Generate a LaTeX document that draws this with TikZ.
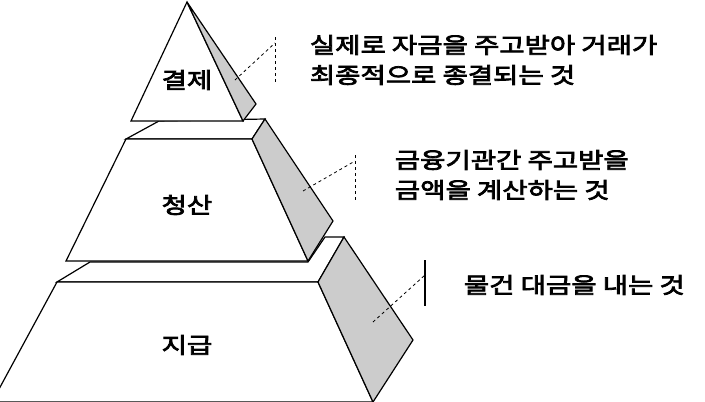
\documentclass[tikz,border=0pt]{standalone}
\usepackage{fontspec}
\newfontfamily\kr{Noto Sans CJK KR}[FakeBold=3.5,FakeStretch=1.25]
\usetikzlibrary{positioning}
\definecolor{sidegray}{RGB}{204,204,204}
\begin{document}
\begin{tikzpicture}[x=1pt,y=-1pt,line join=miter,line width=1.2pt,
    front face/.style={draw,fill=white},
    side face/.style={draw,fill=sidegray},
    leader/.style={dashed,line width=0.8pt},
    tier label/.style={font=\kr\fontsize{22}{26}\selectfont},
    note/.style={font=\kr\fontsize{22}{30}\selectfont,align=left,anchor=west}]
  \useasboundingbox (0,0) rectangle (705,402);
  \begin{scope}
    % bottom tier
    \draw[front face] (57,282) -- (90,262) -- (308,262) -- (325,237) -- (344,237) -- (318,282) -- cycle;
    \draw[front face] (57,282) -- (318,282) -- (373,402) -- (-8,402) -- cycle;
    \draw[side face] (318,282) -- (344,237) -- (413,340) -- (373,402) -- cycle;
    % middle tier
    \draw[front face] (126,139) -- (159,121) -- (265,119) -- (252,139) -- cycle;
    \draw[front face] (126,139) -- (252,139) -- (308,261) -- (66,261) -- cycle;
    \draw[side face] (252,139) -- (265,119) -- (333,221) -- (308,261) -- cycle;
    % top tier
    \draw[front face] (187,2) -- (243,121) -- (131,121) -- cycle;
    \draw[side face] (187,2) -- (256,104) -- (243,121) -- cycle;
  \end{scope}
  \node[tier label] (pay) at (187,80) {결제};
  \node[tier label] (clear) at (187,205) {청산};
  \node[tier label] (give) at (187,345) {지급};
  % leaders
  \coordinate (t1) at (235,80);  \coordinate (t2) at (275,43);
  \coordinate (m1) at (303,191); \coordinate (m2) at (355,161);
  \coordinate (b1) at (373,322); \coordinate (b2) at (425,275);
  \draw[leader] (t1) -- (t2);
  \draw[leader] (275,37) -- (275,82);
  \draw[leader] (m1) -- (m2);
  \draw[leader] (355,155) -- (355,201);
  \draw[leader] (b1) -- (b2);
  \draw[line width=1.2pt] (425,260) -- (425,306);
  \node[note] (n1) at (306,60) {실제로 자금을 주고받아 거래가\\최종적으로 종결되는 것};
  \node[note] (n2) at (391,175) {금융기관간 주고받을\\금액을 계산하는 것};
  \node[note] (n3) at (460,285) {물건 대금을 내는 것};
\end{tikzpicture}
\end{document}
